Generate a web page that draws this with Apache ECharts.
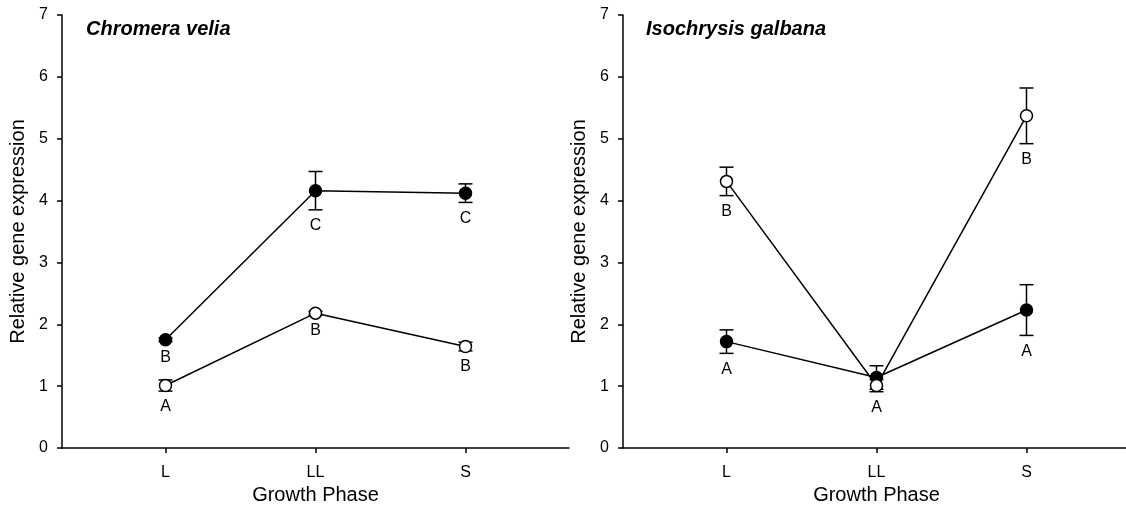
<!DOCTYPE html>
<html>
<head>
<meta charset="utf-8">
<script src="https://cdn.jsdelivr.net/npm/echarts@6/dist/echarts.min.js"></script>
<style>
    html, body { margin: 0; background: #fff; }
    #chart { width: 1126px; height: 508px; }
</style>
</head>
<body>
<div id="chart"></div>
<script>
// growth phases on the x axis
const phases = ['L', 'LL', 'S'];
const phaseX = [1, 2, 3];

// Chromera velia
const cvFilled = [1.75, 4.16, 4.12];
const cvFilledErr = [0.03, 0.31, 0.15];
const cvFilledLetters = ['B', 'C', 'C'];
const cvOpen = [1.01, 2.18, 1.64];
const cvOpenErr = [0.09, 0.03, 0.07];
const cvOpenLetters = ['A', 'B', 'B'];

// Isochrysis galbana
const igFilled = [1.72, 1.14, 2.23];
const igFilledErr = [0.19, 0.19, 0.41];
const igFilledLetters = ['A', '', 'A'];
const igOpen = [4.31, 1.01, 5.37];
const igOpenErr = [0.23, 0.10, 0.45];
const igOpenLetters = ['B', 'A', 'B'];

const font = 'Liberation Sans, Arial, sans-serif';

function points(means) {
    return means.map((m, i) => [phaseX[i], m]);
}

// line + markers
function lineSeries(idx, means, open) {
    return {
        type: 'line',
        xAxisIndex: idx,
        yAxisIndex: idx,
        data: points(means),
        symbol: 'circle',
        symbolSize: 12,
        z: open ? 4 : 3,
        lineStyle: { color: '#000', width: 1.5 },
        itemStyle: { color: open ? '#fff' : '#000', borderColor: '#000', borderWidth: 1.5 },
        emphasis: { disabled: true },
        animation: false
    };
}

// error bars with the letter under each one
function errSeries(idx, means, errs, letters) {
    return {
        type: 'custom',
        xAxisIndex: idx,
        yAxisIndex: idx,
        data: means.map((m, i) => [phaseX[i], m - errs[i], m + errs[i]]),
        z: 2,
        silent: true,
        animation: false,
        renderItem: function (params, api) {
            let x = api.value(0)
            let lo = api.coord([x, api.value(1)])
            let hi = api.coord([x, api.value(2)])
            let cap = 7
            let st = { stroke: '#000', lineWidth: 1.5 }
            return {
                type: 'group',
                children: [
                    { type: 'line', shape: { x1: lo[0], y1: lo[1], x2: hi[0], y2: hi[1] }, style: st },
                    { type: 'line', shape: { x1: lo[0] - cap, y1: lo[1], x2: lo[0] + cap, y2: lo[1] }, style: st },
                    { type: 'line', shape: { x1: hi[0] - cap, y1: hi[1], x2: hi[0] + cap, y2: hi[1] }, style: st },
                    {
                        type: 'text',
                        style: {
                            x: lo[0], y: lo[1] + 16,
                            text: letters[params.dataIndex],
                            fill: '#000', font: '16px ' + font,
                            align: 'center', verticalAlign: 'middle'
                        }
                    }
                ]
            }
        }
    };
}

function xAxis(idx) {
    return {
        type: 'value',
        gridIndex: idx,
        min: 0.31,
        max: 3.69,
        name: 'Growth Phase',
        nameLocation: 'middle',
        nameGap: 37,
        nameTextStyle: { color: '#000', fontSize: 20, fontFamily: font },
        splitLine: { show: false },
        axisLine: { onZero: false, lineStyle: { color: '#000', width: 1.5 } },
        axisTick: { customValues: phaseX, length: 5, lineStyle: { color: '#000', width: 1.5 } },
        axisLabel: {
            customValues: phaseX,
            margin: 17,
            color: '#000', fontSize: 16, fontFamily: font,
            formatter: v => phases[Math.round(v) - 1]
        }
    };
}

function yAxis(idx) {
    return {
        type: 'value',
        gridIndex: idx,
        min: 0,
        max: 7,
        interval: 1,
        name: 'Relative gene expression',
        nameLocation: 'middle',
        nameGap: 34,
        nameTextStyle: { color: '#000', fontSize: 20, fontFamily: font },
        splitLine: { show: false },
        axisLine: { show: true, lineStyle: { color: '#000', width: 1.5 } },
        axisTick: { show: true, length: 5, lineStyle: { color: '#000', width: 1.5 } },
        axisLabel: { margin: 14, color: '#000', fontSize: 16, fontFamily: font }
    };
}

let myChart = echarts.init(document.getElementById('chart'));
let option = {
    backgroundColor: '#fff',
    title: [
        {
            text: 'Chromera velia', left: 81, top: 14,
            textStyle: { color: '#000', fontSize: 20, fontWeight: 'bold', fontStyle: 'italic', fontFamily: font }
        },
        {
            text: 'Isochrysis galbana', left: 641, top: 14,
            textStyle: { color: '#000', fontSize: 20, fontWeight: 'bold', fontStyle: 'italic', fontFamily: font }
        }
    ],
    grid: [
        { left: 62, top: 15, width: 507, bottom: 60, containLabel: false, outerBoundsMode: 'none' },
        { left: 623, top: 15, width: 507, bottom: 60, containLabel: false, outerBoundsMode: 'none' }
    ],
    xAxis: [xAxis(0), xAxis(1)],
    yAxis: [yAxis(0), yAxis(1)],
    series: [
        errSeries(0, cvFilled, cvFilledErr, cvFilledLetters),
        errSeries(0, cvOpen, cvOpenErr, cvOpenLetters),
        lineSeries(0, cvFilled, false),
        lineSeries(0, cvOpen, true),
        errSeries(1, igFilled, igFilledErr, igFilledLetters),
        errSeries(1, igOpen, igOpenErr, igOpenLetters),
        lineSeries(1, igFilled, false),
        lineSeries(1, igOpen, true)
    ]
};
myChart.setOption(option);
</script>
</body>
</html>
